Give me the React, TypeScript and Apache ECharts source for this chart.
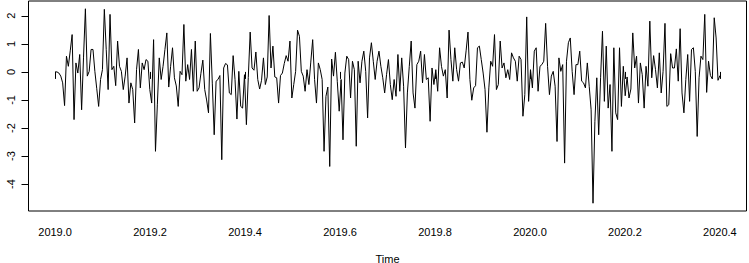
import React, { useEffect, useRef } from "react";
import * as echarts from "echarts";

// Series values (time series from 2019.0 to 2020.4)
const seriesValues: number[] = [
  0, 0, -0.04, -0.15, -0.39, -1.2, 0.56, 0.2, 0.75, 1.33, -1.7, 0.32, -0.04, 0.62, -1.35, 0.5, 2.25,
  -0.15, 0.02, 0.8, 0.8, 0.02, -0.6, -1.23, -0.27, 0.08, 2.23, 0.8, -0.63, 2.05, 0.08, 0.2, -0.49,
  1.1, 0.2, 0.02, -0.63, -0.15, 0.5, -1.11, -0.39, -0.63, -1.82, 0.08, 0.8, -0.57, 0.32, 0.08, 0.44,
  0.38, -0.63, -1.11, 1.15, -2.83, -1.15, 0.5, -0.27, 0.2, 0.8, 1.39,
  -0.54, 0.2, 0.86, -0.21, -0.5, -1.23, 0.02, -0.1, 1.69, -0.33, 0.26, -0.27, 0.8, -0.69, 1.1, -0.69,
  -0.57, -0.05, 0.42, -0.63, -1.0, -1.46, 1.37, -0.4, -2.24, -0.33, -0.27, -0.13, -3.13, 0.14, 0.3,
  0.25, -0.75, -0.81, 0.58, -0.27, -1.68, 0.02, -1.23, -1.29, -0.1, -1.88, -0.2, 1.42, 0.14, 0.06,
  0.71, -0.27, -0.61, -0.3, 0.5, -0.45, -0.18, 2.01, 0.14, 0.92, -0.18, -0.21, -1.11, -0.13, -0.04,
  0.3, 0.58, 0.38, 1.1,
  -0.93, -0.45, 0.02, 1.49, 1.27, 0.02, -0.15, -0.69, 0.08, -0.45, 0.35, 1.15, -0.27, -1.11, 0.32,
  0.08, -0.27, -2.83, -0.87, -0.54, -3.37, 0.46, -0.15, 0.7, -0.35, -1.4, -0.27, -2.42, -0.04, 0.56,
  0.44, -0.93, 0.38, 0.08, -2.65, 0.38, -0.39, 0.38, 0.74, 0.02, -1.64, 0.5, 1.04, 0.38, -0.27, 0.38,
  0.74, 0.2, -0.21, -0.75, -0.1, 0.44, -0.45, -0.99, -0.27, -0.87, 0.62, -0.69, 0.5, -0.51,
  -2.71, -0.75, 0.2, 1.1, -0.75, -1.29, 0.26, 0.38, 0.74, -0.39, 0.62, -0.27, -0.21, -1.76, 0.14,
  -0.45, 0.08, -0.69, 0.86, 0.2, -0.15, 0.08, -0.93, 1.49, 0.44, -0.33, 0.86, 0.08, -0.33, 0.32, 0.35,
  0.14, 0.75, 1.42, -0.27, -1.01, -0.57, -0.49, 0.86, 0.92, 0.44, -0.04, -0.63, -2.15, -0.57, 0.38,
  0.2, 1.33, -0.63, -0.45, 1.1, 0.14, 0.32, -0.21, 0.08, -0.27, 0.68, 0.5, 0.38, -0.33, 0.56, 0.44,
  -1.58, -0.81, 1.96, -1.05,
  0.08, -0.57, 0.74, 0.86, -0.69, 0.2, 0.26, 0.38, 1.73, 0.2, -0.81, -0.15, 0.02, -0.51, -2.48, 0.5,
  0.02, 0.26, -3.25, 0.38, 1.04, 1.21, 0.02, -0.81, 0.26, 0.26, 0.74, -0.33, -0.39, -0.57, 0.32,
  -0.51, -1.35, -4.68, -1.76, -0.21, -2.24, -0.21, 1.45, -1.05, 0.92, -1.29, -0.45, -2.83, 0.86,
  -1.46, -1.7, 0.86, -1.23, 0.2, -0.85, -0.18, -0.93, -0.61,
  1.39, 0.14, 0.56, -1.11, 0.32, -0.1, -1.29, 0.2, -0.51, 1.81, -0.21, 0.58, 0.08, -0.57, 0.68,
  -0.75, 0.02, 1.73, -1.23, -1.17, 0.65, 0.14, 0.14, 0.82, -0.33, 1.54, -0.75, -1.46, -0.27, 0.62,
  -1.05, 0.8, 0.86, 0.02, -2.3, -0.21, 0.56, 0.44, 2.05, -0.73, 0.38, -0.13, -0.25, 1.93, 1.21,
  -0.3, -0.13,
];

const startTime = 2019.0;
const endTime = 2020.4;
const xTicks = [2019.0, 2019.2, 2019.4, 2019.6, 2019.8, 2020.0, 2020.2, 2020.4];
const yTicks = [-4, -3, -2, -1, 0, 1, 2];

export default function App() {
  const ref = useRef<HTMLDivElement>(null);
  useEffect(() => {
    if (!ref.current) return;
    const chart = echarts.init(ref.current, undefined, { renderer: "svg" });
    const n = seriesValues.length;
    const step = (endTime - startTime) / (n - 1);
    const data = seriesValues.map((v, i) => [startTime + i * step, v]);
    const xSpan = endTime - startTime;
    const xMin = startTime - 0.04 * xSpan;
    const xMax = endTime + 0.04 * xSpan;
    const yMinD = Math.min(...seriesValues);
    const yMaxD = Math.max(...seriesValues);
    const ySpan = yMaxD - yMinD;
    const yMin = yMinD - 0.04 * ySpan;
    const yMax = yMaxD + 0.04 * ySpan;
    const font = "Liberation Sans, Arial, sans-serif";
    chart.setOption({
      animation: false,
      grid: {
        left: 28.5,
        right: 2.5,
        top: 1,
        bottom: 52,
        show: true,
        borderColor: "#000",
        borderWidth: 1,
        backgroundColor: "transparent",
        containLabel: false,
        outerBoundsMode: "none",
      },
      xAxis: {
        type: "value",
        min: xMin,
        max: xMax,
        name: "Time",
        nameLocation: "middle",
        nameGap: 42,
        nameTextStyle: { color: "#000", fontSize: 11, fontFamily: font },
        axisLine: { show: false },
        splitLine: { show: false },
        axisTick: {
          show: true,
          length: 7,
          inside: false,
          lineStyle: { color: "#000", width: 1 },
          customValues: xTicks,
        },
        axisLabel: {
          show: true,
          margin: 15,
          color: "#000",
          fontSize: 11,
          fontFamily: font,
          customValues: xTicks,
          formatter: (v: number) => v.toFixed(1),
        },
      },
      yAxis: {
        type: "value",
        min: yMin,
        max: yMax,
        axisLine: { show: false },
        splitLine: { show: false },
        axisTick: {
          show: true,
          length: 7,
          inside: false,
          lineStyle: { color: "#000", width: 1 },
          customValues: yTicks,
        },
        axisLabel: {
          show: true,
          rotate: 90,
          margin: 12,
          color: "#000",
          fontSize: 11,
          fontFamily: font,
          customValues: yTicks,
          formatter: (v: number) => String(v),
        },
      },
      series: [
        {
          type: "line",
          data,
          showSymbol: false,
          symbol: "none",
          lineStyle: { color: "#000", width: 1 },
          silent: true,
        },
      ],
    });
    return () => chart.dispose();
  }, []);
  return (
    <div
      ref={ref}
      style={{ position: "fixed", left: 0, top: 0, width: 749, height: 263, background: "#fff" }}
    />
  );
}
